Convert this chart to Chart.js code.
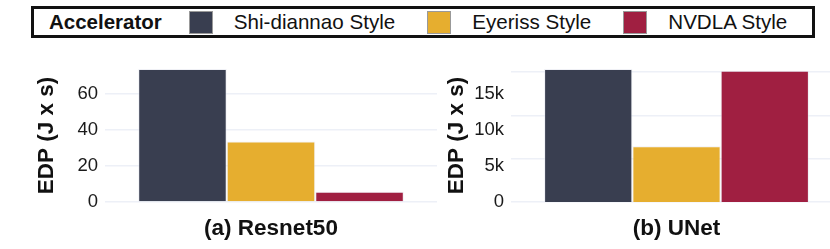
<!DOCTYPE html>
<html>
<head>
<meta charset="utf-8">
<script src="https://cdn.jsdelivr.net/npm/chart.js@4.4.1/dist/chart.umd.min.js"></script>
<style>
  html, body { margin: 0; padding: 0; width: 830px; height: 249px; overflow: hidden; background: #fff; }
  body { position: relative; font-family: 'Liberation Sans', Arial, Helvetica, sans-serif; }
  #legend {
    position: absolute; left: 31px; top: 6px; width: 784px; height: 32px;
    box-sizing: border-box; border: 3px solid #111;
    display: flex; align-items: center; padding-left: 15px; color: #111;
    white-space: nowrap; overflow: hidden;
  }
  #legend span { flex-shrink: 0; }
  #legend .title { font-weight: bold; font-size: 20.5px; margin-right: 27px; }
  #legend .sw { width: 22px; height: 21px; border: 1.5px solid #999; margin-right: 21px; }
  #legend .lab { font-size: 20.6px; margin-right: 32px; }
  canvas { position: absolute; top: 45px; }
  #chartA { left: 0; }
  #chartB { left: 420px; }
</style>
</head>
<body>
<div id="legend"></div>
<canvas id="chartA" width="445" height="204"></canvas>
<canvas id="chartB" width="430" height="204"></canvas>
<script>
const legendTitle = 'Accelerator';
const accelerators = ['Shi-diannao Style', 'Eyeriss Style', 'NVDLA Style'];
const colors = ['#393e50', '#e6ae2f', '#a01f41'];

const labelA = ['(a) Resnet50'];
const labelB = ['(b) UNet'];
const resnetEDP = [73.5, 33.4, 5.7];
const unetEDP = [18450, 7750, 18200];

const ticksA = [0, 20, 40, 60];
const ticksB = [0, 5000, 10000, 15000];
const gridB = [0, 6000, 12000, 18000];
const yTitle = 'EDP (J x s)';

// legend built from the series arrays
const legend = document.getElementById('legend');
legend.innerHTML = '<span class="title">' + legendTitle + '</span>' +
  accelerators.map((a, i) =>
    '<span class="sw" style="background:' + colors[i] + '"></span><span class="lab">' + a + '</span>'
  ).join('');

const FONT = "'Liberation Sans', Arial, Helvetica, sans-serif";
const GRID = '#edf0f7';

function makeDatasets(values) {
  return accelerators.map((a, i) => ({
    label: a,
    data: [values[i]],
    backgroundColor: colors[i],
    borderColor: 'rgba(225,228,236,0.55)',
    borderWidth: 1,
    borderSkipped: 'bottom',
    categoryPercentage: 0.8,
    barPercentage: 1.0
  }));
}

function makeChart(canvas, labels, values, opts) {
  const scales = {
    x: {
      grid: { display: false },
      border: { display: false },
      ticks: { color: '#111', font: { family: FONT, size: 22.5, weight: 'bold' }, padding: 5 },
      afterFit: s => { s.height = 47; }
    },
    y: {
      min: 0,
      max: opts.max,
      afterBuildTicks: s => { s.ticks = opts.ticks.map(v => ({ value: v })); },
      afterFit: s => { s.width = opts.axisWidth; },
      grid: { display: opts.ownGrid, color: GRID, lineWidth: 1.5, drawTicks: false },
      border: { display: false },
      ticks: {
        color: '#1a1a1a',
        font: { family: FONT, size: 18.5 },
        padding: 7,
        callback: opts.fmt
      },
      title: {
        display: true,
        text: yTitle,
        color: '#111',
        font: { family: FONT, size: 22.5, weight: 'bold' },
        padding: { top: opts.titlePad, bottom: 0 }
      }
    }
  };
  if (opts.grid) {
    scales.yGrid = {
      position: 'right',
      min: 0,
      max: opts.max,
      afterBuildTicks: s => { s.ticks = opts.grid.map(v => ({ value: v })); },
      afterFit: s => { s.width = 0; },
      grid: { color: GRID, lineWidth: 1.5, drawTicks: false },
      border: { display: false },
      ticks: { display: false }
    };
  }
  return new Chart(canvas, {
    type: 'bar',
    data: { labels, datasets: makeDatasets(values) },
    options: {
      responsive: false,
      animation: false,
      layout: { padding: { top: 24, right: 8, bottom: 0, left: 0 } },
      plugins: { legend: { display: false }, tooltip: { enabled: false } },
      scales
    }
  });
}

makeChart(document.getElementById('chartA'), labelA, resnetEDP, {
  max: 73.5, ticks: ticksA, axisWidth: 105, titlePad: 33, ownGrid: true,
  fmt: v => String(v)
});

makeChart(document.getElementById('chartB'), labelB, unetEDP, {
  max: 18450, ticks: ticksB, grid: gridB, axisWidth: 91, titlePad: 23, ownGrid: false,
  fmt: v => v === 0 ? '0' : (v / 1000) + 'k'
});
</script>
</body>
</html>
